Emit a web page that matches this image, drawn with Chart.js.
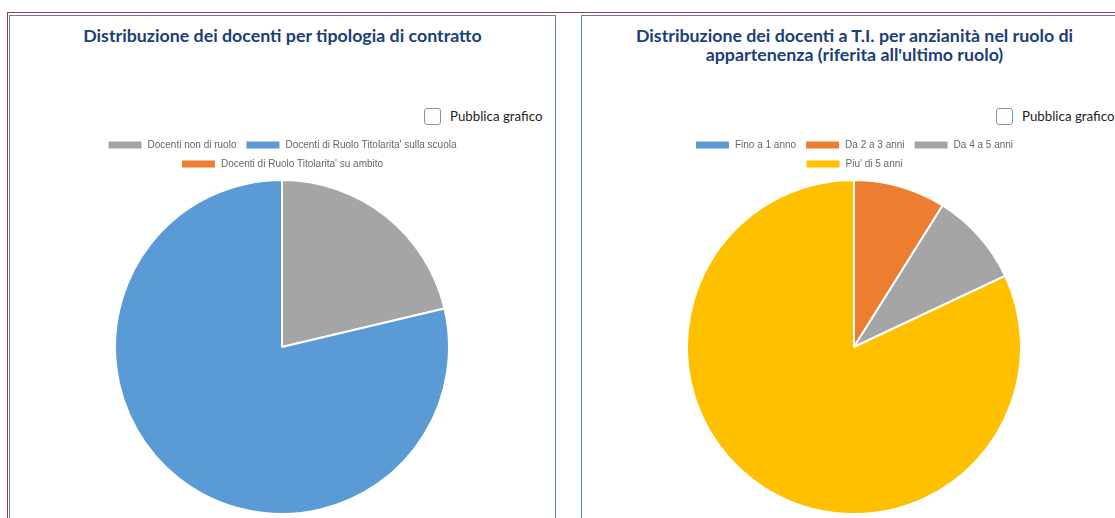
<!DOCTYPE html>
<html>
<head>
<meta charset="utf-8">
<script src="https://cdn.jsdelivr.net/npm/chart.js@4/dist/chart.umd.min.js"></script>
<style>
  html, body { margin: 0; padding: 0; background: #fff; }
  body { width: 1115px; height: 518px; overflow: hidden; position: relative; }
  .frame { position: absolute; left: 7px; top: 12px; width: 1200px; height: 600px;
           border-top: 1px solid #a0394a; border-left: 1px solid #a0394a; }
  .panel { position: absolute; top: 15px; width: 545px; height: 600px;
           border: 1px solid #5a84b0; background: #fff; }
  .title { position: absolute; left: 0; right: 0; top: 10px; text-align: center;
           font-family: Lato, "Open Sans", sans-serif; font-weight: 700; font-size: 17.8px;
           line-height: 19px; color: #1a4077; }
  .publish { position: absolute; top: 91px; font-family: Lato, sans-serif; font-size: 13.3px;
             color: #1d1d1d; line-height: 18px; }
  .publish .box { display: inline-block; width: 15px; height: 15px; border: 1px solid #7f95ad;
                  border-radius: 3px; vertical-align: middle; margin-right: 9px; margin-top: -3px; }
  .wrap { position: absolute; top: 131px; width: 410px; height: 384px; }
</style>
</head>
<body>
<div class="frame"></div>

<div class="panel" style="left:9px;">
  <div class="title">Distribuzione dei docenti per tipologia di contratto</div>
  <div class="publish" style="left:414px;"><span class="box"></span>Pubblica grafico</div>
</div>
<div class="wrap" style="left:77px;"><canvas id="contractChart"></canvas></div>

<div class="panel" style="left:581px;">
  <div class="title">Distribuzione dei docenti a T.I. per anzianità nel ruolo di<br>appartenenza (riferita all'ultimo ruolo)</div>
  <div class="publish" style="left:414px;"><span class="box"></span>Pubblica grafico</div>
</div>
<div class="wrap" style="left:649px;"><canvas id="seniorityChart"></canvas></div>

<script>
// values (percent of teachers)
var contractLabels = ["Docenti non di ruolo", "Docenti di Ruolo Titolarita' sulla scuola", "Docenti di Ruolo Titolarita' su ambito"];
var contractValues = [21.3, 78.7, 0];
var contractColors = ['#a5a5a5', '#5b9bd5', '#ed7d31'];

var seniorityLabels = ["Fino a 1 anno", "Da 2 a 3 anni", "Da 4 a 5 anni", "Piu' di 5 anni"];
var seniorityValues = [0, 8.9, 9.1, 82.0];
var seniorityColors = ['#5b9bd5', '#ed7d31', '#a5a5a5', '#ffc000'];

function makePie(id, labels, values, colors) {
  var ctx = document.getElementById(id).getContext('2d');
  return new Chart(ctx, {
    type: 'pie',
    data: {
      labels: labels,
      datasets: [{
        data: values,
        backgroundColor: colors,
        borderColor: '#ffffff',
        borderWidth: 2
      }]
    },
    options: {
      responsive: true,
      maintainAspectRatio: false,
      animation: false,
      events: [],
      layout: { padding: 0 },
      plugins: {
        legend: {
          position: 'top',
          labels: {
            boxWidth: 35,
            boxHeight: 9,
            padding: 9,
            color: '#666',
            font: { family: 'Liberation Sans, Arial, sans-serif', size: 10 }
          }
        },
        tooltip: { enabled: false }
      }
    }
  });
}

makePie('contractChart', contractLabels, contractValues, contractColors);
makePie('seniorityChart', seniorityLabels, seniorityValues, seniorityColors);
</script>
</body>
</html>
